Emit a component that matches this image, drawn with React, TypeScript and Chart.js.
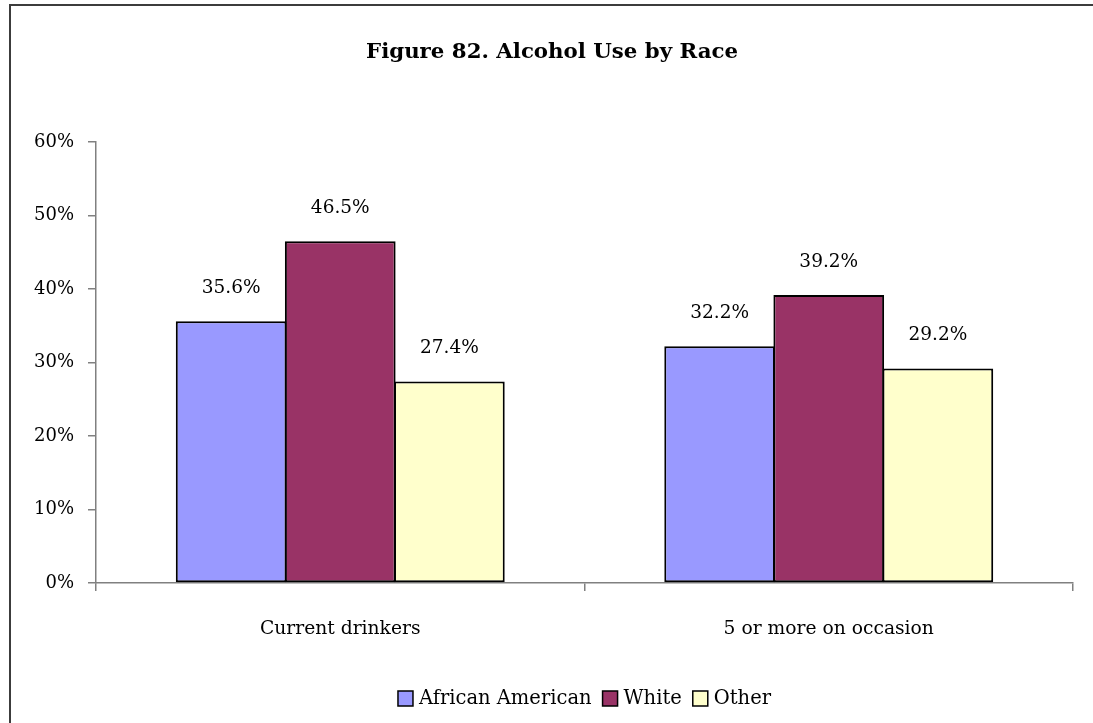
import React, { useEffect, useRef } from "react";
import { Chart, registerables } from "chart.js";

Chart.register(...registerables);

const categories = ["Current drinkers", "5 or more on occasion"];
const seriesNames = ["African American", "White", "Other"];
const africanAmerican = [35.6, 32.2];
const white = [46.5, 39.2];
const other = [27.4, 29.2];
const seriesColors = ["#9999FF", "#993366", "#FFFFCC"];
const yTicks = [0, 10, 20, 30, 40, 50, 60];
const titleText = "Figure 82. Alcohol Use by Race";

const FONT = "'DejaVu Serif', serif";

// White page with a dark frame around the figure
const framePlugin = {
  id: "frame",
  beforeDraw(chart: any) {
    const { ctx, width, height } = chart;
    ctx.save();
    ctx.fillStyle = "#ffffff";
    ctx.fillRect(0, 0, width, height);
    ctx.strokeStyle = "#3c3c3c";
    ctx.lineWidth = 2;
    ctx.strokeRect(10, 5, width + 20, height + 20);
    ctx.restore();
  },
};

// Title, value labels and legend
const annotatePlugin = {
  id: "annotate",
  afterDatasetsDraw(chart: any) {
    const { ctx } = chart;
    ctx.save();
    ctx.font = `18.5px ${FONT}`;
    ctx.fillStyle = "#000";
    ctx.textAlign = "center";
    ctx.textBaseline = "middle";
    chart.data.datasets.forEach((ds: any, i: number) => {
      const meta = chart.getDatasetMeta(i);
      meta.data.forEach((bar: any, j: number) => {
        ctx.fillText(ds.data[j].toFixed(1) + "%", bar.x, bar.y - 33);
      });
    });
    ctx.restore();
  },
  afterDraw(chart: any) {
    const { ctx, chartArea } = chart;
    ctx.save();
    // title
    ctx.font = `bold 21.3px ${FONT}`;
    ctx.fillStyle = "#000";
    ctx.textAlign = "center";
    ctx.textBaseline = "alphabetic";
    ctx.fillText(titleText, 552, 58);

    // legend
    ctx.font = `19.5px ${FONT}`;
    ctx.textBaseline = "middle";
    ctx.textAlign = "left";
    const box = 15;
    const gapText = 6;
    const gapItem = 11;
    const widths = seriesNames.map((n) => ctx.measureText(n).width);
    const total =
      widths.reduce((a, w) => a + box + gapText + w, 0) + gapItem * (seriesNames.length - 1);
    let x = (chartArea.left + chartArea.right) / 2 - total / 2;
    const cy = 698.5;
    seriesNames.forEach((name, i) => {
      ctx.fillStyle = seriesColors[i];
      ctx.fillRect(x, cy - box / 2, box, box);
      ctx.strokeStyle = "#000";
      ctx.lineWidth = 1.5;
      ctx.strokeRect(x, cy - box / 2, box, box);
      ctx.fillStyle = "#000";
      ctx.fillText(name, x + box + gapText, cy);
      x += box + gapText + widths[i] + gapItem;
    });
    ctx.restore();
  },
};

export default function App() {
  const canvasRef = useRef<HTMLCanvasElement | null>(null);

  useEffect(() => {
    const canvas = canvasRef.current;
    if (!canvas) return;
    const seriesData = [africanAmerican, white, other];
    const chart = new Chart(canvas, {
      type: "bar",
      data: {
        labels: categories,
        datasets: seriesNames.map((name, i) => ({
          label: name,
          data: seriesData[i],
          backgroundColor: seriesColors[i],
          borderColor: "#000",
          borderWidth: 2,
          borderSkipped: false,
          barPercentage: 1.015,
          categoryPercentage: 0.67,
        })),
      },
      options: {
        responsive: false,
        animation: false,
        devicePixelRatio: 1,
        layout: { padding: { left: 0, top: 142, right: 20, bottom: 80 } },
        plugins: {
          legend: { display: false },
          title: { display: false },
          tooltip: { enabled: false },
        },
        scales: {
          x: {
            afterFit: (scale: any) => {
              scale.height = 60;
            },
            grid: {
              display: true,
              offset: true,
              drawOnChartArea: false,
              drawTicks: true,
              tickLength: 8,
              color: "#808080",
              lineWidth: 1.5,
            },
            border: { display: true, color: "#808080", width: 1.5 },
            ticks: {
              font: { family: FONT, size: 18.7 },
              color: "#000",
              padding: 27,
              maxRotation: 0,
            },
          },
          y: {
            min: 0,
            max: 60,
            afterFit: (scale: any) => {
              scale.width = 96;
            },
            afterBuildTicks: (scale: any) => {
              scale.ticks = yTicks.map((v) => ({ value: v }));
            },
            grid: {
              display: true,
              drawOnChartArea: false,
              drawTicks: true,
              tickLength: 8,
              color: "#808080",
              lineWidth: 1.5,
            },
            border: { display: true, color: "#808080", width: 1.5 },
            ticks: {
              font: { family: FONT, size: 18 },
              color: "#000",
              padding: 14,
              callback: (v: any) => v + "%",
            },
          },
        },
      },
      plugins: [framePlugin, annotatePlugin],
    });
    return () => chart.destroy();
  }, []);

  return (
    <div style={{ position: "absolute", left: 0, top: 0, width: 1093, height: 723 }}>
      <canvas ref={canvasRef} width={1093} height={723} style={{ display: "block" }} />
    </div>
  );
}
